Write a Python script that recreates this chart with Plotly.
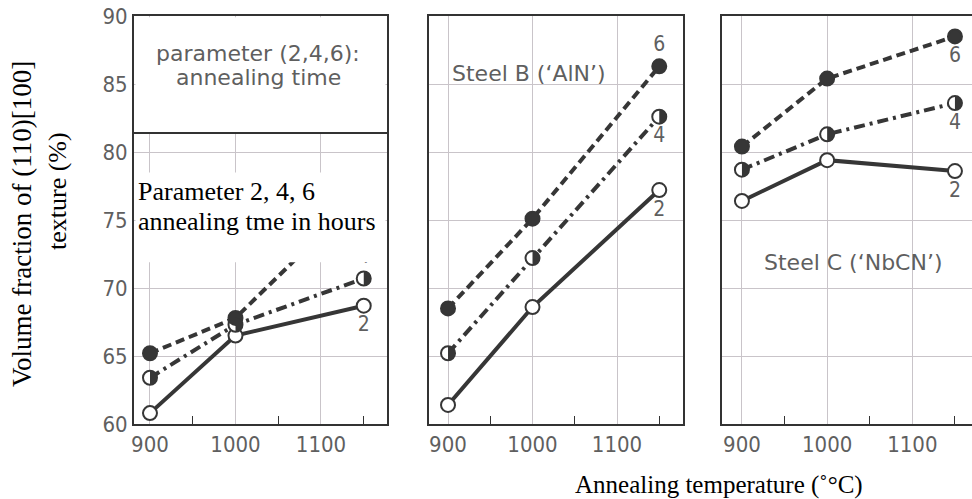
import plotly.graph_objects as go

# ---------------- data ----------------
temps = [900, 1000, 1150]
x_tick_vals = [900, 1000, 1100]
x_minor_vals = [950, 1050, 1150]
y_tick_vals = [60, 65, 70, 75, 80, 85, 90]
hours = ["2", "4", "6"]

# Panel 1 (left, parameter panel)
a_2h = [60.8, 66.5, 68.7]
a_4h = [63.4, 67.3, 70.7]
a_6h = [65.2, 67.8, 77.0]
# Panel 2: Steel B ('AlN')
b_2h = [61.4, 68.6, 77.2]
b_4h = [65.2, 72.2, 82.6]
b_6h = [68.5, 75.1, 86.3]
# Panel 3: Steel C ('NbCN')
c_2h = [76.4, 79.4, 78.6]
c_4h = [78.7, 81.3, 83.6]
c_6h = [80.4, 85.4, 88.5]

W, H = 972, 499
INK = "#363636"
GRAY_TXT = "#5f5f5f"
GRID = "#c9c4c9"
COND = "DejaVu Sans Condensed, DejaVu Sans, sans-serif"
SERIF = "Liberation Serif, Times New Roman, serif"

def px_x(p):
    return p / W

def px_y(p):
    return 1 - p / H

panels = [
    dict(dom=(134, 387), rng=(881.3, 1177.2), data=(a_2h, a_4h, a_6h),
         lblpos=("bottom center", "top center", "bottom center"), hide_last=True),
    dict(dom=(429, 683), rng=(877.5, 1178.1), data=(b_2h, b_4h, b_6h),
         lblpos=("bottom center", "bottom center", "top center"), hide_last=False),
    dict(dom=(722, 972), rng=(876.6, 1170.0), data=(c_2h, c_4h, c_6h),
         lblpos=("bottom center", "bottom center", "bottom center"), hide_last=False),
]

styles = [
    dict(dash="solid", fill="white"),
    dict(dash="11px,5px,3px,5px", fill="white"),
    dict(dash="9px,5px", fill=INK),
]

fig = go.Figure()
shapes = []
R = 7
K = 0.5523 * R

for i, p in enumerate(panels):
    sfx = "" if i == 0 else str(i + 1)
    xr, yr = "x" + sfx, "y" + sfx
    for j, series in enumerate(p["data"]):
        st = styles[j]
        label = hours[j]
        if p["hide_last"] and j == 2:
            label = ""  # the "6" label of this panel sits under the pasted text box
        fig.add_trace(go.Scatter(
            x=temps, y=series, xaxis=xr, yaxis=yr,
            mode="lines+markers+text",
            line=dict(color=INK, width=4, dash=st["dash"]),
            marker=dict(symbol="circle", size=14, color=st["fill"],
                        line=dict(color=INK, width=2)),
            text=["", "", label],
            textposition=p["lblpos"][j],
            textfont=dict(family=COND, size=21, color=GRAY_TXT),
            hoverinfo="skip",
        ))
        if j == 1:
            # half-filled markers (right half dark) for the 4-hour series
            for t, v in zip(temps, series):
                shapes.append(dict(
                    type="path", xref=xr, yref=yr,
                    xsizemode="pixel", ysizemode="pixel",
                    xanchor=t, yanchor=v,
                    path=f"M0,{R} C{K},{R} {R},{K} {R},0 C{R},{-K} {K},{-R} 0,{-R} Z",
                    fillcolor=INK, line=dict(width=0), layer="above",
                ))

axis_common = dict(showgrid=True, gridcolor=GRID, gridwidth=1, showline=True,
                   linecolor="#333333", linewidth=2, zeroline=False, automargin=False)

for i, p in enumerate(panels):
    sfx = "" if i == 0 else str(i + 1)
    fig.layout["xaxis" + sfx] = dict(
        axis_common, domain=[px_x(p["dom"][0]), px_x(p["dom"][1])],
        range=list(p["rng"]), tickvals=x_tick_vals, ticks="", mirror=True,
        anchor="y" + sfx,
        tickfont=dict(family=COND, size=22, color=GRAY_TXT),
        minor=dict(tickvals=x_minor_vals, ticks="inside", ticklen=8,
                   tickcolor="#333333", tickwidth=1, showgrid=False),
    )
    fig.layout["yaxis" + sfx] = dict(
        axis_common, domain=[px_y(424), px_y(16)], range=[60, 90],
        tickvals=y_tick_vals, ticks="", mirror=(i < 2),
        anchor="x" + sfx, showticklabels=(i == 0),
        tickfont=dict(family=COND, size=22, color=GRAY_TXT),
    )

# panel 1 overlays (pasted boxes of the original figure)
shapes += [
    dict(type="rect", xref="x domain", yref="y", x0=0.006, x1=0.994, y0=81.4, y1=89.9,
         fillcolor="white", line=dict(width=0), layer="above"),
    dict(type="line", xref="x domain", yref="y", x0=0, x1=1, y0=81.4, y1=81.4,
         line=dict(color="#333333", width=2), layer="above"),
    dict(type="rect", xref="x domain", yref="y", x0=0.006, x1=0.994, y0=71.9, y1=78.5,
         fillcolor="white", line=dict(width=0), layer="above"),
]

ann = []
def txt(text, x, y, font, xanchor="center", angle=0):
    ann.append(dict(text=text, x=px_x(x), y=px_y(y), xref="paper", yref="paper",
                    showarrow=False, xanchor=xanchor, yanchor="middle",
                    textangle=angle, font=font))

gray = dict(family="DejaVu Sans, sans-serif", size=22, color=GRAY_TXT)
txt("Volume fraction of (110)[100]", 22, 224, dict(family=SERIF, size=27, color="black"), angle=-90)
txt("texture (%)", 57, 191, dict(family=SERIF, size=26, color="black"), angle=-90)
txt("Annealing temperature (˚°C)", 719, 485, dict(family=SERIF, size=25, color="black"))
txt("parameter (2,4,6):", 258, 53, gray)
txt("annealing time", 258, 78, gray)
txt("Steel B (‘AlN’)", 529, 73, gray)
txt("Steel C (‘NbCN’)", 853, 262, gray)
txt("Parameter 2, 4, 6", 136, 191, dict(family=SERIF, size=26, color="black"), xanchor="left")
txt("annealing tme in hours", 136, 221, dict(family=SERIF, size=26, color="black"), xanchor="left")

fig.update_layout(
    width=W, height=H, margin=dict(l=0, r=0, t=0, b=0, autoexpand=False),
    paper_bgcolor="white", plot_bgcolor="white", showlegend=False,
    shapes=shapes, annotations=ann,
)

fig.write_html("out.html", config={"displayModeBar": False},
               post_script="document.body.style.margin='0px';")
